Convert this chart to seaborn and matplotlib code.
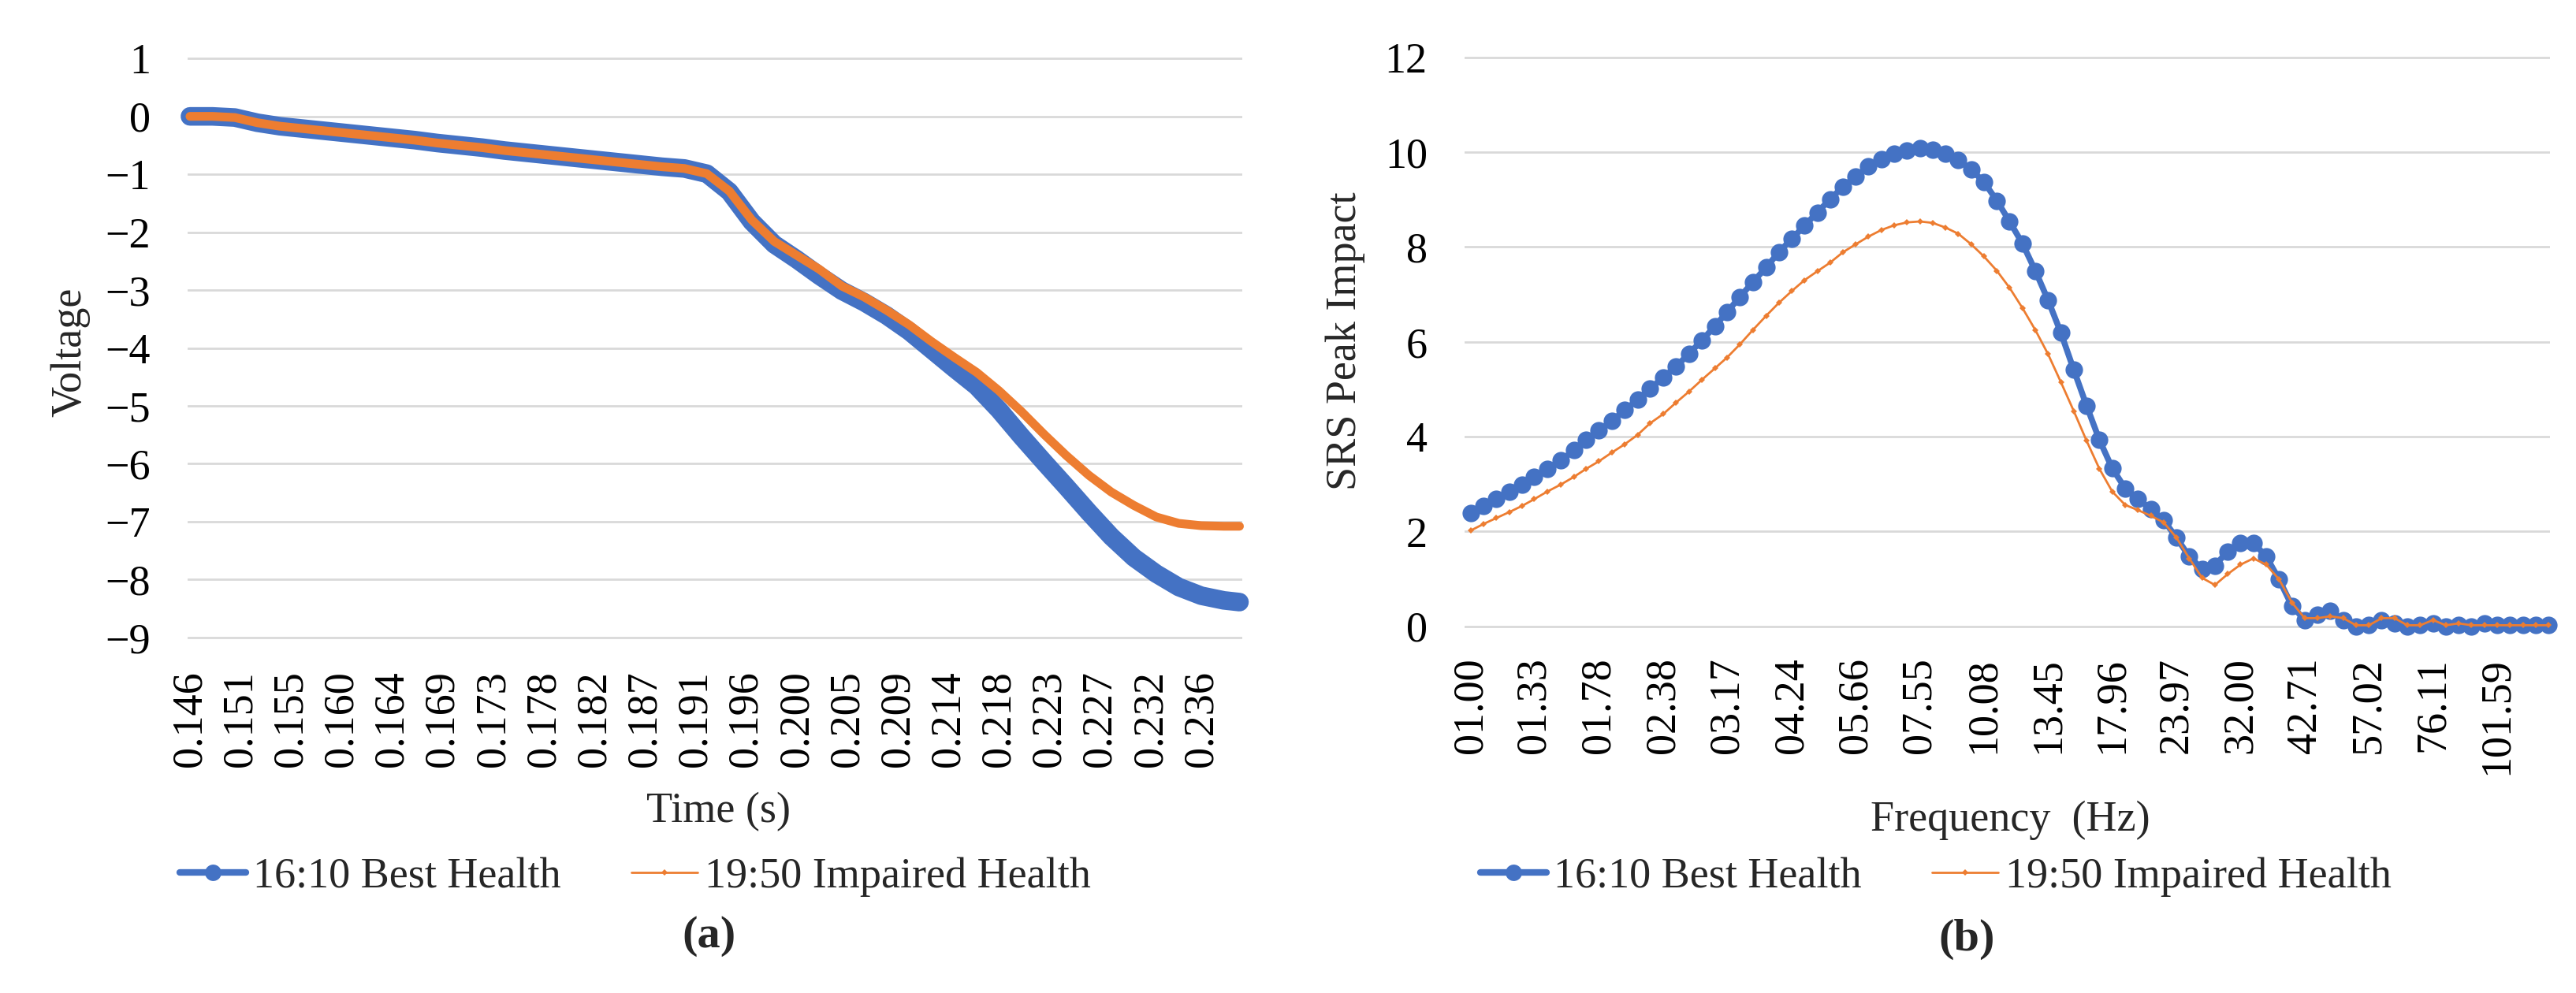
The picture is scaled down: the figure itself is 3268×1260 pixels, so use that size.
import matplotlib
matplotlib.use("Agg")

import numpy as np

import matplotlib.pyplot as plt

from matplotlib.lines import Line2D
from matplotlib.ticker import NullLocator

import seaborn as sns

# ---- data: (a) voltage vs time ----
time_s = [
    0.146, 0.148, 0.150, 0.152, 0.154, 0.156, 0.158, 0.160, 0.162, 0.164,
    0.166, 0.168, 0.170, 0.172, 0.174, 0.176, 0.178, 0.180, 0.182, 0.184,
    0.186, 0.188, 0.190, 0.192, 0.194, 0.196, 0.198, 0.200, 0.202, 0.204,
    0.206, 0.208, 0.210, 0.212, 0.214, 0.216, 0.218, 0.220, 0.222, 0.224,
    0.226, 0.228, 0.230, 0.232, 0.234, 0.236, 0.238, 0.2394
]

volt_best = [
    0.00, 0.00, -0.02, -0.11, -0.17, -0.21, -0.25, -0.29, -0.33, -0.37,
    -0.41, -0.46, -0.50, -0.54, -0.59, -0.63, -0.67, -0.71, -0.75, -0.79,
    -0.83, -0.87, -0.90, -0.99, -1.30, -1.82, -2.21, -2.47, -2.75, -3.01,
    -3.21, -3.44, -3.71, -4.03, -4.35, -4.66, -5.07, -5.53, -5.97, -6.40,
    -6.84, -7.26, -7.62, -7.90, -8.13, -8.28, -8.36, -8.39
]

volt_impaired = [
    0.00, 0.00, -0.02, -0.11, -0.17, -0.21, -0.25, -0.29, -0.33, -0.37,
    -0.41, -0.46, -0.50, -0.54, -0.59, -0.63, -0.67, -0.71, -0.75, -0.79,
    -0.83, -0.87, -0.90, -0.99, -1.29, -1.79, -2.16, -2.40, -2.64, -2.93,
    -3.12, -3.35, -3.60, -3.89, -4.16, -4.42, -4.74, -5.10, -5.49, -5.86,
    -6.20, -6.49, -6.72, -6.92, -7.03, -7.07, -7.08, -7.08
]

time_labels = [
    "0.146", "0.151", "0.155", "0.160", "0.164", "0.169", "0.173",
    "0.178", "0.182", "0.187", "0.191", "0.196", "0.200", "0.205",
    "0.209", "0.214", "0.218", "0.223", "0.227", "0.232", "0.236"
]

# ---- data: (b) SRS peak impact vs frequency ----
freq_hz = [
    1.00, 1.06, 1.12, 1.19, 1.26, 1.33, 1.41, 1.50, 1.59, 1.68, 1.78, 1.89,
    2.00, 2.12, 2.24, 2.38, 2.52, 2.67, 2.83, 3.00, 3.17, 3.36, 3.56, 3.78,
    4.00, 4.24, 4.49, 4.76, 5.04, 5.34, 5.66, 5.99, 6.35, 6.73, 7.13, 7.55,
    8.00, 8.48, 8.98, 9.51, 10.08, 10.68, 11.31, 11.99, 12.70, 13.45, 14.25, 15.10,
    16.00, 16.95, 17.96, 19.03, 20.16, 21.36, 22.63, 23.97, 25.40, 26.91, 28.51, 30.20,
    32.00, 33.90, 35.92, 38.05, 40.32, 42.71, 45.25, 47.95, 50.80, 53.82, 57.02, 60.41,
    64.00, 67.81, 71.84, 76.11, 80.63, 85.43, 90.51, 95.89, 101.59, 107.63, 114.04, 120.82,
    128.00
]

srs_best = [
    2.39, 2.54, 2.69, 2.84, 2.99, 3.15, 3.32, 3.50, 3.71, 3.93,
    4.13, 4.34, 4.56, 4.78, 5.01, 5.25, 5.48, 5.75, 6.03, 6.33,
    6.63, 6.95, 7.26, 7.57, 7.89, 8.17, 8.45, 8.73, 9.01, 9.27,
    9.49, 9.70, 9.86, 9.97, 10.04, 10.08, 10.06, 9.97, 9.83, 9.64,
    9.37, 8.98, 8.54, 8.07, 7.50, 6.88, 6.19, 5.41, 4.65, 3.93,
    3.33, 2.91, 2.69, 2.47, 2.24, 1.87, 1.47, 1.21, 1.28, 1.58,
    1.76, 1.76, 1.47, 0.99, 0.43, 0.13, 0.24, 0.32, 0.13, 0.00,
    0.02, 0.13, 0.06, 0.00, 0.02, 0.06, 0.00, 0.02, 0.00, 0.06,
    0.02, 0.02, 0.02, 0.02, 0.02
]

srs_impaired = [
    2.02, 2.16, 2.28, 2.41, 2.54, 2.68, 2.84, 2.99, 3.15, 3.32,
    3.48, 3.67, 3.84, 4.04, 4.28, 4.48, 4.72, 4.95, 5.20, 5.44,
    5.67, 5.95, 6.25, 6.55, 6.82, 7.07, 7.30, 7.49, 7.67, 7.89,
    8.06, 8.22, 8.36, 8.46, 8.52, 8.54, 8.51, 8.41, 8.28, 8.06,
    7.80, 7.50, 7.14, 6.71, 6.25, 5.74, 5.15, 4.54, 3.91, 3.32,
    2.84, 2.56, 2.45, 2.33, 2.19, 1.87, 1.43, 1.02, 0.87, 1.10,
    1.30, 1.43, 1.30, 0.99, 0.50, 0.17, 0.17, 0.21, 0.17, 0.02,
    0.02, 0.17, 0.17, 0.02, 0.02, 0.13, 0.02, 0.06, 0.02, 0.02,
    0.02, 0.02, 0.02, 0.02, 0.02
]

series_names = ["16:10 Best Health", "19:50 Impaired Health"]

BLUE = "#4472C4"
ORANGE = "#ED7D31"
GRID = "#D9D9D9"
FS = 39

sns.set_theme(style="white")
plt.rcParams["font.family"] = ["Liberation Serif", "DejaVu Serif"]
plt.rcParams["axes.unicode_minus"] = True

W, H = 3268, 1260
fig = plt.figure(figsize=(W / 100, H / 100), dpi=100)

ax1 = fig.add_axes([238 / W, 1 - 811 / H, (1576 - 238) / W, (811 - 72) / H])
ax2 = fig.add_axes([1858 / W, 1 - 797 / H, (3235 - 1858) / W, (797 - 70.5) / H])

# (a) markers are so dense in the original that they read as one thick band
sns.lineplot(
    x=time_s, y=volt_best, ax=ax1, color=BLUE, linewidth=17,
    solid_capstyle="round", solid_joinstyle="round", clip_on=False,
    legend=False, zorder=3
)
sns.lineplot(
    x=time_s, y=volt_impaired, ax=ax1, color=ORANGE, linewidth=8,
    solid_capstyle="round", solid_joinstyle="round", clip_on=False,
    legend=False, zorder=4
)

ax1.set_xlim(0.14579, 0.23965)
ax1.set_ylim(-9.03, 1.03)
ax1.set_yticks(range(-9, 2))
ax1.set_xticks(np.linspace(0.146, 0.236, len(time_labels)), labels=time_labels, rotation=90)
ax1.set_xlabel("Time (s)")
ax1.set_ylabel("Voltage")
ax1.xaxis.set_label_coords(0.503, -0.296)
ax1.yaxis.set_label_coords(-0.111, 0.493)

# (b)
sns.lineplot(
    x=freq_hz, y=srs_best, ax=ax2, color=BLUE, linewidth=5.5,
    marker="o", markersize=16, markeredgewidth=0, clip_on=False,
    legend=False, zorder=3
)
sns.lineplot(
    x=freq_hz, y=srs_impaired, ax=ax2, color=ORANGE, linewidth=2,
    marker="D", markersize=4, markeredgewidth=0, clip_on=False,
    legend=False, zorder=4
)

ax2.set_xscale("log", base=2)
ax2.set_xlim(2 ** (-0.49 / 12), 2 ** (84.12 / 12))
ax2.set_ylim(-0.04, 12.04)
ax2.set_yticks(range(0, 13, 2))
tick_f = freq_hz[::5]
ax2.set_xticks(tick_f, labels=[f"{f:05.2f}" for f in tick_f], rotation=90)
ax2.xaxis.set_minor_locator(NullLocator())
ax2.set_xlabel("Frequency  (Hz)")
ax2.set_ylabel("SRS Peak Impact")
ax2.xaxis.set_label_coords(0.5025, -0.336)
ax2.yaxis.set_label_coords(-0.1097, 0.501)

for ax, xpad in ((ax1, 29), (ax2, 27)):
    for side in ("top", "right", "left", "bottom"):
        ax.spines[side].set_visible(False)
    ax.yaxis.grid(True, color=GRID, linewidth=2)
    ax.xaxis.grid(False)
    ax.set_axisbelow(True)
    ax.tick_params(axis="both", length=0, labelsize=FS, labelcolor="black")
    ax.tick_params(axis="x", pad=xpad)
    ax.tick_params(axis="y", pad=34)
    ax.xaxis.label.set_size(FS)
    ax.yaxis.label.set_size(FS)
    ax.xaxis.label.set_va("center")
    ax.yaxis.label.set_va("center")

handles = [
    Line2D([], [], color=BLUE, linewidth=6, marker="o", markersize=15, markeredgewidth=0),
    Line2D([], [], color=ORANGE, linewidth=2, marker="D", markersize=4, markeredgewidth=0),
]

for ax, cx in ((ax1, 806), (ax2, 2456)):
    ax.legend(
        handles, series_names, loc="center", ncol=2, frameon=False,
        bbox_to_anchor=(cx / W, 1 - 1113 / H), bbox_transform=fig.transFigure,
        fontsize=FS, handlelength=1.55, handletextpad=0.18, columnspacing=1.64
    )

fig.text(900 / W, 1 - 1188 / H, "(a)", ha="center", va="center", fontsize=42, fontweight="bold")
fig.text(2495 / W, 1 - 1192 / H, "(b)", ha="center", va="center", fontsize=42, fontweight="bold")

fig.savefig("out.png", dpi=100)
